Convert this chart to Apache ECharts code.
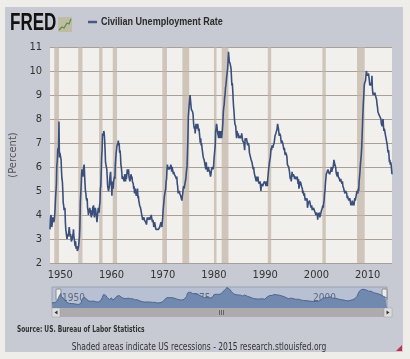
<!DOCTYPE html>
<html><head><meta charset="utf-8">
<script src="https://cdn.jsdelivr.net/npm/echarts@6/dist/echarts.min.js"></script>
<style>html,body{margin:0;padding:0;background:#efedea;}#c{width:410px;height:359px;}</style>
</head><body><div id="c"></div>
<script>
// Monthly civilian unemployment rate (%), starting January 1948
var startYear = 1948;
var unrate = [
3.4,3.8,4.0,3.9,3.5,3.6,3.6,3.9,3.8,3.7,3.8,4.0,
4.3,4.7,5.0,5.3,6.1,6.2,6.7,6.8,6.6,7.9,6.4,6.6,
6.5,6.4,6.3,5.8,5.5,5.4,5.0,4.5,4.4,4.2,4.2,4.3,
3.7,3.4,3.4,3.1,3.0,3.2,3.1,3.1,3.3,3.5,3.5,3.1,
3.2,3.1,2.9,2.9,3.0,3.0,3.2,3.4,3.1,3.0,2.8,2.7,
2.9,2.6,2.6,2.7,2.5,2.5,2.6,2.7,2.9,3.1,3.5,4.5,
4.9,5.2,5.7,5.9,5.9,5.6,5.8,6.0,6.1,5.7,5.3,5.0,
4.9,4.7,4.6,4.7,4.3,4.2,4.0,4.2,4.1,4.3,4.2,4.2,
4.0,3.9,4.2,4.0,4.3,4.3,4.4,4.1,3.9,3.9,4.3,4.2,
4.2,3.9,3.7,3.9,4.1,4.3,4.2,4.1,4.4,4.5,5.1,5.2,
5.8,6.4,6.7,7.4,7.4,7.3,7.5,7.4,7.1,6.7,6.2,6.2,
6.0,5.9,5.6,5.2,5.1,5.0,5.1,5.2,5.5,5.7,5.8,5.3,
5.2,4.8,5.4,5.2,5.1,5.4,5.5,5.6,5.5,6.1,6.1,6.6,
6.6,6.9,6.9,7.0,7.1,6.9,7.0,6.6,6.7,6.5,6.1,6.0,
5.8,5.5,5.6,5.6,5.5,5.5,5.4,5.7,5.6,5.4,5.7,5.5,
5.7,5.9,5.7,5.7,5.9,5.6,5.6,5.4,5.5,5.5,5.7,5.5,
5.6,5.4,5.4,5.3,5.1,5.2,4.9,5.0,5.1,5.1,4.8,5.0,
4.9,5.1,4.7,4.8,4.6,4.6,4.4,4.4,4.3,4.2,4.1,4.0,
4.0,3.8,3.8,3.8,3.9,3.8,3.8,3.8,3.7,3.7,3.6,3.8,
3.9,3.8,3.8,3.8,3.8,3.9,3.8,3.8,3.8,4.0,3.9,3.8,
3.7,3.8,3.7,3.5,3.5,3.7,3.7,3.5,3.4,3.4,3.4,3.4,
3.4,3.4,3.4,3.4,3.4,3.5,3.5,3.5,3.7,3.7,3.5,3.5,
3.9,4.2,4.4,4.6,4.8,4.9,5.0,5.1,5.4,5.5,5.9,6.1,
5.9,5.9,6.0,5.9,5.9,5.9,6.0,6.1,6.0,5.8,6.0,6.0,
5.8,5.7,5.8,5.7,5.7,5.7,5.6,5.6,5.5,5.6,5.3,5.2,
4.9,5.0,4.9,5.0,4.9,4.9,4.8,4.8,4.8,4.6,4.8,4.9,
5.1,5.2,5.1,5.1,5.1,5.4,5.5,5.5,5.9,6.0,6.6,7.2,
8.1,8.1,8.6,8.8,9.0,8.8,8.6,8.4,8.4,8.4,8.3,8.2,
7.9,7.7,7.6,7.7,7.4,7.6,7.8,7.8,7.6,7.7,7.8,7.8,
7.5,7.6,7.4,7.2,7.0,7.2,6.9,7.0,6.8,6.8,6.8,6.4,
6.4,6.3,6.3,6.1,6.0,5.9,6.2,5.9,6.0,5.8,5.9,6.0,
5.9,5.9,5.8,5.8,5.6,5.7,5.7,6.0,5.9,6.0,5.9,6.0,
6.3,6.3,6.3,6.9,7.5,7.6,7.8,7.7,7.5,7.5,7.5,7.2,
7.5,7.4,7.4,7.2,7.5,7.5,7.2,7.4,7.6,7.9,8.3,8.5,
8.6,8.9,9.0,9.3,9.4,9.6,9.8,9.8,10.1,10.4,10.8,10.8,
10.4,10.4,10.3,10.2,10.1,10.1,9.4,9.5,9.2,8.8,8.5,8.3,
8.0,7.8,7.8,7.7,7.4,7.2,7.5,7.5,7.3,7.4,7.2,7.3,
7.3,7.2,7.2,7.3,7.2,7.4,7.4,7.1,7.1,7.1,7.0,7.0,
6.7,7.2,7.2,7.1,7.2,7.2,7.0,6.9,7.0,7.0,6.9,6.6,
6.6,6.6,6.6,6.3,6.3,6.2,6.1,6.0,5.9,6.0,5.8,5.7,
5.7,5.7,5.7,5.4,5.6,5.4,5.4,5.6,5.4,5.4,5.3,5.3,
5.4,5.2,5.0,5.2,5.2,5.3,5.2,5.2,5.3,5.3,5.4,5.4,
5.4,5.3,5.2,5.4,5.4,5.2,5.5,5.7,5.9,5.9,6.2,6.3,
6.4,6.6,6.8,6.7,6.9,6.9,6.8,6.9,6.9,7.0,7.0,7.3,
7.3,7.4,7.4,7.4,7.6,7.8,7.7,7.6,7.6,7.3,7.4,7.4,
7.3,7.1,7.0,7.1,7.1,7.0,6.9,6.8,6.7,6.8,6.6,6.5,
6.6,6.6,6.5,6.4,6.1,6.1,6.1,6.0,5.9,5.8,5.6,5.5,
5.6,5.4,5.4,5.8,5.6,5.6,5.7,5.7,5.6,5.5,5.6,5.6,
5.6,5.5,5.5,5.6,5.6,5.3,5.5,5.1,5.2,5.2,5.4,5.4,
5.3,5.2,5.2,5.1,4.9,5.0,4.9,4.8,4.9,4.7,4.6,4.7,
4.6,4.6,4.7,4.3,4.4,4.5,4.5,4.5,4.6,4.5,4.4,4.4,
4.3,4.4,4.2,4.3,4.2,4.3,4.3,4.2,4.2,4.1,4.1,4.0,
4.0,4.1,4.0,3.8,4.0,4.0,4.0,4.1,3.9,3.9,3.9,3.9,
4.2,4.2,4.3,4.4,4.3,4.5,4.6,4.9,5.0,5.3,5.5,5.7,
5.7,5.7,5.7,5.9,5.8,5.8,5.8,5.7,5.7,5.7,5.9,6.0,
5.8,5.9,5.9,6.0,6.1,6.3,6.2,6.1,6.1,6.0,5.8,5.7,
5.7,5.6,5.8,5.6,5.6,5.6,5.5,5.4,5.4,5.5,5.4,5.4,
5.3,5.4,5.2,5.2,5.1,5.0,5.0,4.9,5.0,5.0,5.0,4.9,
4.7,4.8,4.7,4.7,4.6,4.6,4.7,4.7,4.5,4.4,4.5,4.4,
4.6,4.5,4.4,4.5,4.4,4.6,4.7,4.6,4.7,4.7,4.7,5.0,
5.0,4.9,5.1,5.0,5.4,5.6,5.8,6.1,6.1,6.5,6.8,7.3,
7.8,8.3,8.7,9.0,9.4,9.5,9.5,9.6,9.8,10.0,9.9,9.9,
9.8,9.8,9.9,9.9,9.6,9.4,9.4,9.5,9.5,9.4,9.8,9.3,
9.1,9.0,9.0,9.1,9.0,9.1,9.0,9.0,9.0,8.8,8.6,8.5,
8.3,8.3,8.2,8.2,8.2,8.2,8.2,8.0,7.8,7.8,7.7,7.9,
8.0,7.7,7.5,7.6,7.5,7.5,7.3,7.2,7.2,7.2,6.9,6.7,
6.6,6.7,6.7,6.2,6.3,6.1,6.2,6.1,5.9,5.7
];
// NBER recessions [start, end] as "YYYY-MM"
var recessions = [
['1948-11','1949-10'],['1953-07','1954-05'],['1957-08','1958-04'],
['1960-04','1961-02'],['1969-12','1970-11'],['1973-11','1975-03'],
['1980-01','1980-07'],['1981-07','1982-11'],['1990-07','1991-03'],
['2001-03','2001-11'],['2007-12','2009-06']
];
var xTicks = [1950,1960,1970,1980,1990,2000,2010];
var navTicks = [1950,1975,2000];
var yTicks = [2,3,4,5,6,7,8,9,10,11];

function ym(s){var p=s.split('-');return +p[0]+(+p[1]-1)/12;}
var series = unrate.map(function(v,i){return [startYear+i/12, v];});
var xMin = startYear, xMax = startYear+(unrate.length-1)/12;
var recAreas = recessions.map(function(r){return [{xAxis:ym(r[0])},{xAxis:ym(r[1])}];});

var chart = echarts.init(document.getElementById('c'));
var FONT = '"Liberation Sans Narrow","DejaVu Sans Condensed",sans-serif';
chart.setOption({
  animation:false,
  backgroundColor:'#efedea',
  grid:[
    {left:50,right:18,top:47,bottom:96,show:true,backgroundColor:'#f2f0ec',borderWidth:0},
    {left:52,right:23,top:287,height:21,show:true,backgroundColor:'#b7c1d3',borderColor:'#9aa3b3',borderWidth:1}
  ],
  xAxis:[
    {type:'value',gridIndex:0,min:xMin,max:xMax,
     axisLine:{show:false},axisTick:{show:false},splitLine:{show:false},
     axisLabel:{customValues:xTicks,color:'#333',fontSize:11,fontFamily:FONT,margin:7,formatter:function(v){return String(Math.round(v));}}},
    {type:'value',gridIndex:1,min:xMin,max:xMax,
     axisLine:{show:false},axisTick:{show:false},splitLine:{show:false},
     axisLabel:{customValues:navTicks,inside:true,align:'left',margin:5,color:'#5d6a80',fontSize:10,fontFamily:FONT,formatter:function(v){return String(Math.round(v));}}}
  ],
  yAxis:[
    {type:'value',gridIndex:0,min:2,max:11,interval:1,
     axisLine:{show:false},axisTick:{show:false},
     splitLine:{show:true,lineStyle:{color:'#a99f95',width:1}},
     axisLabel:{color:'#333',fontSize:11,fontFamily:FONT,margin:8},
     name:'(Percent)',nameLocation:'middle',nameGap:26,nameRotate:90,
     nameTextStyle:{color:'#555',fontSize:10,fontFamily:'"DejaVu Sans",sans-serif'}},
    {type:'value',gridIndex:1,min:1,max:11,show:false}
  ],
  series:[
    {type:'line',xAxisIndex:0,yAxisIndex:0,data:series,showSymbol:false,
     lineStyle:{color:'#3b4f7c',width:1.6},z:3,
     markArea:{silent:true,itemStyle:{color:'rgba(192,180,168,0.72)'},data:recAreas}},
    {type:'line',xAxisIndex:1,yAxisIndex:1,data:series,showSymbol:false,
     lineStyle:{color:'#4d6590',width:1},areaStyle:{color:'#7189ae',opacity:1},z:2}
  ],
  graphic:[
    {type:'rect',z:-10,shape:{x:5,y:7,width:398,height:345},style:{fill:'#c7cad2'},silent:true},
    // FRED logo
    {type:'text',x:10,y:24,scaleX:0.74,style:{text:'FRED',font:'bold 23px "Liberation Sans",sans-serif',fill:'#111',verticalAlign:'middle'}},
    {type:'rect',shape:{x:58,y:17,width:14,height:15},style:{fill:'#bdbca4'}},
    {type:'polyline',shape:{points:[[59,30],[62,27],[64,28],[67,23],[69,24],[71,19]]},style:{stroke:'#5f8a3a',lineWidth:1.2,fill:null}},
    // legend
    {type:'line',shape:{x1:88,y1:22,x2:97,y2:22},style:{stroke:'#4a5a85',lineWidth:2.5}},
    {type:'text',x:101,y:22,scaleX:0.82,style:{text:'Civilian Unemployment Rate',font:'bold 11px "Liberation Sans",sans-serif',fill:'#2a2a2a',verticalAlign:'middle'}},
    // navigator handles
    {type:'rect',shape:{x:56,y:289,width:5,height:11,r:1},style:{fill:'#ececec',stroke:'#8a8a8a',lineWidth:1}},
    {type:'rect',shape:{x:382,y:289,width:5,height:11,r:1},style:{fill:'#ececec',stroke:'#8a8a8a',lineWidth:1}},
    // scrollbar
    {type:'rect',shape:{x:52,y:308,width:340,height:9},style:{fill:'#adabad'}},
    {type:'rect',shape:{x:52,y:308,width:8,height:9},style:{fill:'#dedede',stroke:'#999',lineWidth:0.5}},
    {type:'rect',shape:{x:384,y:308,width:8,height:9},style:{fill:'#dedede',stroke:'#999',lineWidth:0.5}},
    {type:'polygon',shape:{points:[[54.5,312.5],[57.5,310.5],[57.5,314.5]]},style:{fill:'#333'}},
    {type:'polygon',shape:{points:[[389.5,312.5],[386.5,310.5],[386.5,314.5]]},style:{fill:'#333'}},
    {type:'line',shape:{x1:219.5,y1:310,x2:219.5,y2:315},style:{stroke:'#666',lineWidth:1}},
    {type:'line',shape:{x1:221.5,y1:310,x2:221.5,y2:315},style:{stroke:'#666',lineWidth:1}},
    {type:'line',shape:{x1:223.5,y1:310,x2:223.5,y2:315},style:{stroke:'#666',lineWidth:1}},
    // footer texts
    {type:'text',x:17,y:330,scaleX:0.82,style:{text:'Source: US. Bureau of Labor Statistics',font:'bold 8px "DejaVu Sans Condensed",sans-serif',fill:'#333',verticalAlign:'middle'}},
    {type:'text',x:199,y:347,scaleX:0.84,style:{text:'Shaded areas indicate US recessions - 2015 research.stlouisfed.org',font:'10px "DejaVu Sans Condensed",sans-serif',fill:'#333',align:'center',verticalAlign:'middle'}},
    {type:'polygon',shape:{points:[[402,345],[402,351],[396,351]]},style:{fill:'#c03050'}}
  ]
});
</script></body></html>
